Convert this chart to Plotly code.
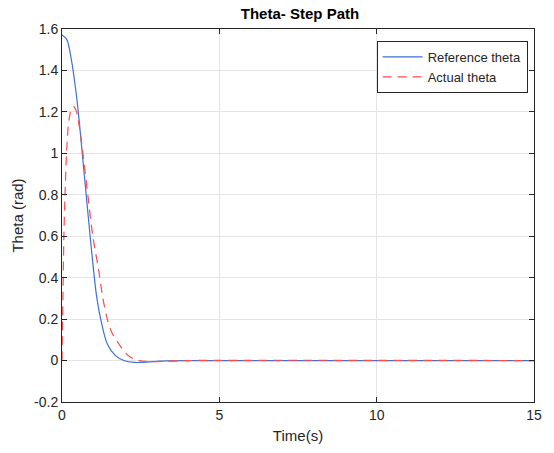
import plotly.graph_objects as go

# Reference theta
t_ref = [0, 0.15, 0.3, 0.45, 0.55, 0.65, 0.75, 0.875, 1.0, 1.1, 1.23, 1.44, 1.7, 1.97, 2.3, 2.8, 3.3, 3.9, 15]
theta_ref = [1.571, 1.55, 1.45, 1.29, 1.15, 0.99, 0.83, 0.63, 0.44, 0.31, 0.2, 0.08, 0.024, 0, -0.009, -0.006, -0.002, 0, 0]

# Actual theta
t_act = [0, 0.03, 0.06, 0.1, 0.15, 0.22, 0.3, 0.37, 0.45, 0.55, 0.68, 0.82, 0.98, 1.16, 1.3, 1.44, 1.6, 1.81, 2.0, 2.18, 2.44, 2.8, 3.3, 4, 15]
theta_act = [0, 0.3, 0.6, 0.82, 1.02, 1.16, 1.215, 1.225, 1.205, 1.13, 0.98, 0.8, 0.6, 0.441, 0.3, 0.2, 0.13, 0.08, 0.04, 0.016, 0, -0.005, -0.003, 0, 0]

x_ticks = [0, 5, 10, 15]
y_ticks = [-0.2, 0, 0.2, 0.4, 0.6, 0.8, 1, 1.2, 1.4, 1.6]
y_tick_labels = ["-0.2", "0", "0.2", "0.4", "0.6", "0.8", "1", "1.2", "1.4", "1.6"]

FONT = "Liberation Sans, Arial, sans-serif"

fig = go.Figure()
fig.add_trace(go.Scatter(x=t_ref, y=theta_ref, mode="lines", name="Reference theta",
                         line=dict(color="rgb(62,112,214)", width=1.2, shape="spline", smoothing=0.9)))
fig.add_trace(go.Scatter(x=t_act, y=theta_act, mode="lines", name="Actual theta",
                         line=dict(color="rgb(255,75,75)", width=1.2, dash="9px,6px", shape="spline", smoothing=0.9)))

axis_common = dict(showline=True, linecolor="#262626", linewidth=1, mirror="ticks",
                   ticks="inside", ticklen=5, tickcolor="#262626",
                   showgrid=True, gridcolor="#e5e5e5", gridwidth=1, zeroline=False,
                   tickfont=dict(family=FONT, size=14, color="#262626"))

fig.update_xaxes(range=[0, 15], tickvals=x_ticks,
                 title=dict(text="Time(s)", font=dict(family=FONT, size=15, color="#262626"), standoff=8),
                 **axis_common)
fig.update_yaxes(range=[-0.2, 1.6], tickvals=y_ticks, ticktext=y_tick_labels,
                 title=dict(text="Theta (rad)", font=dict(family=FONT, size=15, color="#262626"), standoff=6),
                 **axis_common)

fig.update_layout(
    width=554, height=453,
    margin=dict(l=62, r=16, t=29, b=50),
    paper_bgcolor="white", plot_bgcolor="white",
    title=dict(text="<b>Theta- Step Path</b>", x=0.5415, xanchor="center", y=0.969, yanchor="middle",
               font=dict(family=FONT, size=15, color="black")),
    legend=dict(x=0.9865, y=0.968, xanchor="right", yanchor="top",
                bgcolor="white", bordercolor="#262626", borderwidth=1,
                font=dict(family=FONT, size=13, color="#262626"),
                tracegroupgap=0, itemwidth=40),
    showlegend=True,
)

fig.write_html("out.html")
